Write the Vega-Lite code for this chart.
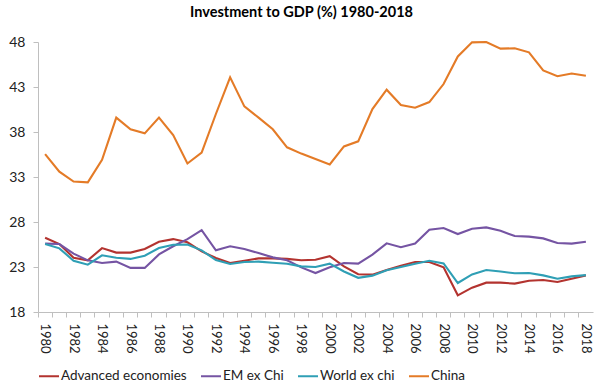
{
  "$schema": "https://vega.github.io/schema/vega-lite/v6.json",
  "width": 555,
  "height": 270,
  "autosize": {"type": "none"},
  "padding": {"left": 38, "top": 42, "right": 9, "bottom": 79},
  "background": "white",
  "title": {"text": "Investment to GDP (%) 1980-2018", "font": "Lato", "fontSize": 14.5, "fontWeight": "bold", "color": "#000000", "anchor": "middle", "dx": -14, "offset": 15},
  "data": {"values": [
    {"year": 1980, "Advanced economies": 26.25, "EM ex Chi": 25.6, "World ex chi": 25.55, "China": 35.55},
    {"year": 1981, "Advanced economies": 25.55, "EM ex Chi": 25.55, "World ex chi": 25.07, "China": 33.6},
    {"year": 1982, "Advanced economies": 24.03, "EM ex Chi": 24.48, "World ex chi": 23.7, "China": 32.5},
    {"year": 1983, "Advanced economies": 23.74, "EM ex Chi": 23.74, "World ex chi": 23.26, "China": 32.4},
    {"year": 1984, "Advanced economies": 25.1, "EM ex Chi": 23.44, "World ex chi": 24.3, "China": 34.9},
    {"year": 1985, "Advanced economies": 24.6, "EM ex Chi": 23.6, "World ex chi": 24.03, "China": 39.6},
    {"year": 1986, "Advanced economies": 24.6, "EM ex Chi": 22.9, "World ex chi": 23.9, "China": 38.3},
    {"year": 1987, "Advanced economies": 25.0, "EM ex Chi": 22.9, "World ex chi": 24.26, "China": 37.85},
    {"year": 1988, "Advanced economies": 25.8, "EM ex Chi": 24.4, "World ex chi": 25.1, "China": 39.6},
    {"year": 1989, "Advanced economies": 26.1, "EM ex Chi": 25.3, "World ex chi": 25.48, "China": 37.65},
    {"year": 1990, "Advanced economies": 25.74, "EM ex Chi": 26.1, "World ex chi": 25.5, "China": 34.5},
    {"year": 1991, "Advanced economies": 24.74, "EM ex Chi": 27.1, "World ex chi": 24.85, "China": 35.7},
    {"year": 1992, "Advanced economies": 24.0, "EM ex Chi": 24.85, "World ex chi": 23.77, "China": 40.0},
    {"year": 1993, "Advanced economies": 23.44, "EM ex Chi": 25.3, "World ex chi": 23.33, "China": 44.07},
    {"year": 1994, "Advanced economies": 23.7, "EM ex Chi": 25.0, "World ex chi": 23.55, "China": 40.85},
    {"year": 1995, "Advanced economies": 23.96, "EM ex Chi": 24.55, "World ex chi": 23.6, "China": 39.6},
    {"year": 1996, "Advanced economies": 23.96, "EM ex Chi": 24.07, "World ex chi": 23.48, "China": 38.3},
    {"year": 1997, "Advanced economies": 23.9, "EM ex Chi": 23.74, "World ex chi": 23.37, "China": 36.3},
    {"year": 1998, "Advanced economies": 23.75, "EM ex Chi": 22.96, "World ex chi": 23.07, "China": 35.6},
    {"year": 1999, "Advanced economies": 23.8, "EM ex Chi": 22.33, "World ex chi": 23.0, "China": 35.0},
    {"year": 2000, "Advanced economies": 24.2, "EM ex Chi": 22.96, "World ex chi": 23.37, "China": 34.4},
    {"year": 2001, "Advanced economies": 23.07, "EM ex Chi": 23.44, "World ex chi": 22.5, "China": 36.4},
    {"year": 2002, "Advanced economies": 22.2, "EM ex Chi": 23.37, "World ex chi": 21.8, "China": 36.96},
    {"year": 2003, "Advanced economies": 22.15, "EM ex Chi": 24.37, "World ex chi": 22.04, "China": 40.55},
    {"year": 2004, "Advanced economies": 22.66, "EM ex Chi": 25.63, "World ex chi": 22.63, "China": 42.7},
    {"year": 2005, "Advanced economies": 23.15, "EM ex Chi": 25.2, "World ex chi": 23.0, "China": 41.0},
    {"year": 2006, "Advanced economies": 23.55, "EM ex Chi": 25.6, "World ex chi": 23.37, "China": 40.7},
    {"year": 2007, "Advanced economies": 23.55, "EM ex Chi": 27.15, "World ex chi": 23.7, "China": 41.33},
    {"year": 2008, "Advanced economies": 22.96, "EM ex Chi": 27.33, "World ex chi": 23.4, "China": 43.33},
    {"year": 2009, "Advanced economies": 19.85, "EM ex Chi": 26.66, "World ex chi": 21.22, "China": 46.4},
    {"year": 2010, "Advanced economies": 20.7, "EM ex Chi": 27.26, "World ex chi": 22.18, "China": 47.96},
    {"year": 2011, "Advanced economies": 21.26, "EM ex Chi": 27.4, "World ex chi": 22.66, "China": 48.0},
    {"year": 2012, "Advanced economies": 21.26, "EM ex Chi": 27.03, "World ex chi": 22.5, "China": 47.26},
    {"year": 2013, "Advanced economies": 21.15, "EM ex Chi": 26.44, "World ex chi": 22.3, "China": 47.3},
    {"year": 2014, "Advanced economies": 21.48, "EM ex Chi": 26.37, "World ex chi": 22.33, "China": 46.85},
    {"year": 2015, "Advanced economies": 21.55, "EM ex Chi": 26.18, "World ex chi": 22.07, "China": 44.85},
    {"year": 2016, "Advanced economies": 21.33, "EM ex Chi": 25.66, "World ex chi": 21.7, "China": 44.2},
    {"year": 2017, "Advanced economies": 21.7, "EM ex Chi": 25.6, "World ex chi": 21.96, "China": 44.5},
    {"year": 2018, "Advanced economies": 22.07, "EM ex Chi": 25.8, "World ex chi": 22.1, "China": 44.25}
  ]},
  "transform": [
    {"fold": ["Advanced economies", "EM ex Chi", "World ex chi", "China"], "as": ["series", "value"]}
  ],
  "mark": {"type": "line", "strokeWidth": 2.1},
  "encoding": {
    "x": {
      "field": "year", "type": "ordinal", "bandPosition": 0.5,
      "scale": {"type": "band", "paddingInner": 0, "paddingOuter": 0},
      "axis": {
        "title": null, "bandPosition": 0, "labelAngle": 90, "labelFont": "Lato", "labelFontSize": 13,
        "labelColor": "#222222", "labelPadding": 6, "labelExpr": "datum.value % 2 == 0 ? datum.label : ''",
        "labelOverlap": false, "domainColor": "#bfbfbf", "tickColor": "#bfbfbf", "tickSize": 5, "grid": false
      }
    },
    "y": {
      "field": "value", "type": "quantitative",
      "scale": {"domain": [18, 48], "nice": false, "zero": false},
      "axis": {
        "title": null, "values": [18, 23, 28, 33, 38, 43, 48], "grid": false, "labelFont": "Lato",
        "labelFontSize": 14, "labelColor": "#222222", "labelPadding": 8, "domainColor": "#bfbfbf",
        "tickColor": "#bfbfbf", "tickSize": 5
      }
    },
    "color": {
      "field": "series", "type": "nominal",
      "sort": ["Advanced economies", "EM ex Chi", "World ex chi", "China"],
      "scale": {"domain": ["Advanced economies", "EM ex Chi", "World ex chi", "China"], "range": ["#B3332F", "#7554A3", "#2F9FB5", "#E47B27"]},
      "legend": {
        "title": null, "orient": "bottom", "direction": "horizontal", "symbolType": "stroke",
        "symbolSize": 400, "symbolStrokeWidth": 2, "labelFont": "Lato", "labelFontSize": 13.5,
        "labelColor": "#222222", "columnPadding": 10, "labelOffset": 1, "offset": 11
      }
    }
  },
  "config": {"view": {"stroke": null}}
}
